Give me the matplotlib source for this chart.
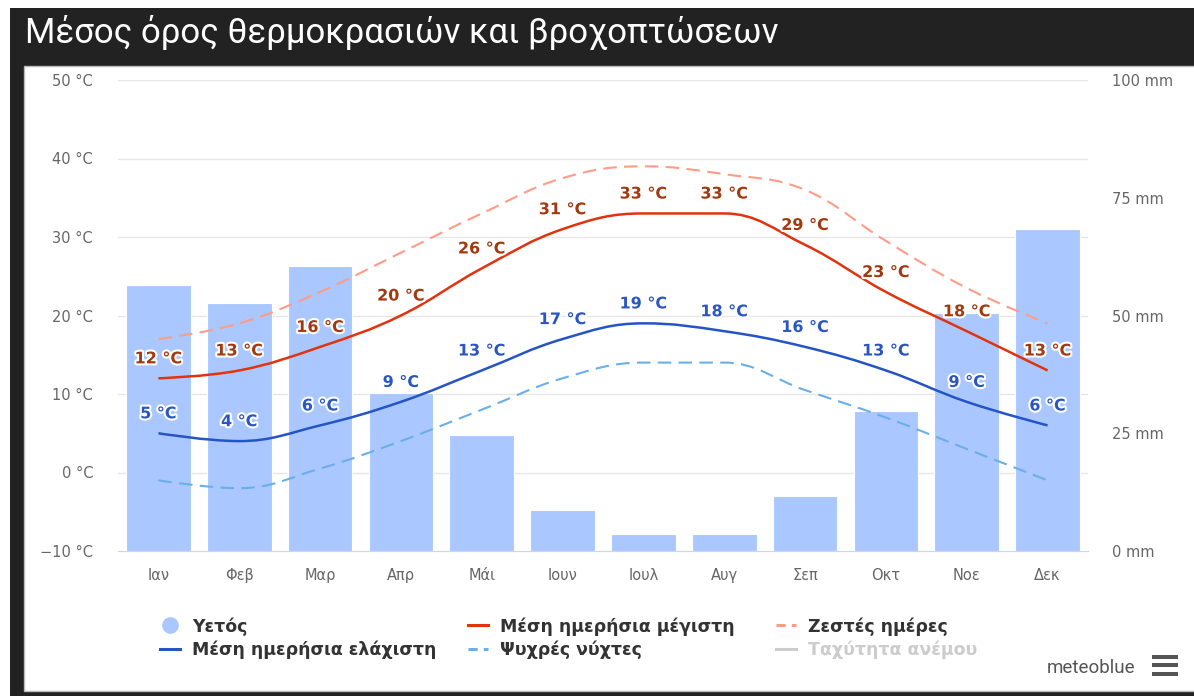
import matplotlib
matplotlib.use("Agg")
import matplotlib.pyplot as plt
import matplotlib.patheffects as pe
from matplotlib.path import Path
from matplotlib.patches import PathPatch, Rectangle
from matplotlib.lines import Line2D
from matplotlib.transforms import blended_transform_factory

# data
months = ['Ιαν', 'Φεβ', 'Μαρ', 'Απρ', 'Μάι', 'Ιουν', 'Ιουλ', 'Αυγ', 'Σεπ', 'Οκτ', 'Νοε', 'Δεκ']
rain_mm = [56.5, 52.7, 60.5, 33.5, 24.6, 8.7, 3.6, 3.6, 11.7, 29.7, 50.5, 68.4]
t_max = [12, 13, 16, 20, 26, 31, 33, 33, 29, 23, 18, 13]
t_min = [5, 4, 6, 9, 13, 17, 19, 18, 16, 13, 9, 6]
hot_days = [17, 19, 23, 28, 33, 37.5, 39, 38, 36, 29.5, 23.5, 19]
cold_nights = [-1, -2, 0.5, 4, 8, 12, 14, 14, 10.5, 7, 3, -1]

temp_ticks = [-10, 0, 10, 20, 30, 40, 50]
rain_ticks = [0, 25, 50, 75, 100]

W, H = 1194, 696
fig = plt.figure(figsize=(W / 100, H / 100), dpi=100)
fig.patch.set_facecolor('white')

# dark frame + title bar, white panel
fig.add_artist(Rectangle((10 / W, 0), 1, 1 - 8 / H, transform=fig.transFigure,
                         facecolor='#222222', edgecolor='none', zorder=-3))
fig.add_artist(Rectangle((24 / W, 5 / H), 1, 1 - 66 / H - 5 / H, transform=fig.transFigure,
                         facecolor='white', edgecolor='#bbbbbb', lw=1, zorder=-2))
fig.text(25 / W, 1 - 33 / H, 'Μέσος όρος θερμοκρασιών και βροχοπτώσεων',
         color='white', fontsize=25, family='Roboto', va='center', ha='left')

ax = fig.add_axes([118 / W, 1 - 551 / H, 970 / W, 471 / H])
rain = ax.twinx()
ax.set_zorder(rain.get_zorder() + 1)
ax.patch.set_visible(False)

x = list(range(len(months)))

# grid behind the bars, placed in temperature units
gt = blended_transform_factory(rain.transAxes, ax.transData)
for t in temp_ticks[1:]:
    rain.plot([0, 1], [t, t], transform=gt, color='#e6e6e6', lw=1, zorder=0)

rain.bar(x, rain_mm, width=0.8, color='#aac8ff', edgecolor='white', lw=0.8, zorder=1)
rain.set_ylim(0, 100)
rain.set_yticks(rain_ticks)
rain.set_yticklabels([f'{v} mm' for v in rain_ticks])


def spline_path(xs, ys, smoothing=1.5):
    verts = [(xs[0], ys[0])]
    codes = [Path.MOVETO]
    n = len(xs)
    prev_right = (xs[0], ys[0])
    for i in range(1, n):
        px, py = xs[i], ys[i]
        lx, ly = xs[i - 1], ys[i - 1]
        if i < n - 1:
            nx, ny = xs[i + 1], ys[i + 1]
            d = smoothing + 1
            lcx = (smoothing * px + lx) / d
            lcy = (smoothing * py + ly) / d
            rcx = (smoothing * px + nx) / d
            rcy = (smoothing * py + ny) / d
            corr = (rcy - lcy) * (rcx - px) / (rcx - lcx) + py - rcy
            lcy += corr
            rcy += corr
            if lcy > ly and lcy > py:
                lcy = max(ly, py)
                rcy = 2 * py - lcy
            elif lcy < ly and lcy < py:
                lcy = min(ly, py)
                rcy = 2 * py - lcy
            if rcy > ny and rcy > py:
                rcy = max(ny, py)
                lcy = 2 * py - rcy
            elif rcy < ny and rcy < py:
                rcy = min(ny, py)
                lcy = 2 * py - rcy
        else:
            lcx, lcy = px, py
            rcx, rcy = px, py
        verts += [prev_right, (lcx, lcy), (px, py)]
        codes += [Path.CURVE4] * 3
        prev_right = (rcx, rcy)
    return Path(verts, codes)


c_max, c_min = '#e2330e', '#2554c7'
c_hot, c_cold = '#ff9b86', '#6aaeea'
dash = (0, (6.5, 3.5))

series = [
    (hot_days, c_hot, dash, 1.5),
    (cold_nights, c_cold, dash, 1.5),
    (t_max, c_max, '-', 1.8),
    (t_min, c_min, '-', 1.8),
]
for vals, col, ls, lw in series:
    ax.add_patch(PathPatch(spline_path(x, vals), fill=False, edgecolor=col,
                           lw=lw, linestyle=ls, zorder=3, capstyle='butt'))

halo = [pe.withStroke(linewidth=3, foreground='white')]
for vals, col in [(t_max, '#a3380e'), (t_min, '#2a55c4')]:
    for xi, v in zip(x, vals):
        ax.annotate(f'{v} °C', (xi, v), xytext=(0, 14), textcoords='offset points',
                    ha='center', va='center', fontsize=11.5, fontweight='bold',
                    color=col, path_effects=halo, zorder=5)

ax.set_xlim(-0.5, len(months) - 0.5)
ax.set_ylim(-10, 50)
ax.set_yticks(temp_ticks)
ax.set_yticklabels([f'{t} °C'.replace('-', '\u2212') for t in temp_ticks])
ax.set_xticks(x)
ax.set_xticklabels(months)

for a in (ax, rain):
    for s in a.spines.values():
        s.set_visible(False)
    a.tick_params(length=0, colors='#666666', labelsize=10.5)
ax.spines['bottom'].set_visible(True)
ax.spines['bottom'].set_color('#ccd6eb')
ax.tick_params(axis='y', pad=18)
ax.tick_params(axis='x', pad=12)
rain.tick_params(axis='y', pad=17)

# legend, three columns placed like the original
handles = [
    Line2D([], [], ls='none', marker='o', ms=11, color='#aac8ff'),
    Line2D([], [], color=c_min, lw=2.2),
    Line2D([], [], color=c_max, lw=2.2),
    Line2D([], [], color=c_cold, lw=2.2, ls=(0, (3, 2))),
    Line2D([], [], color=c_hot, lw=2.2, ls=(0, (3, 2))),
    Line2D([], [], color='#cccccc', lw=2.2),
]
labels = ['Υετός', 'Μέση ημερήσια ελάχιστη', 'Μέση ημερήσια μέγιστη',
          'Ψυχρές νύχτες', 'Ζεστές ημέρες', 'Ταχύτητα ανέμου']
col_x = [160, 468, 776]
for c in range(3):
    leg = fig.legend(handles[2 * c:2 * c + 2], labels[2 * c:2 * c + 2],
                     loc='upper left', bbox_to_anchor=(col_x[c] / W, 1 - 617 / H),
                     frameon=False, borderpad=0, borderaxespad=0,
                     prop={'family': 'DejaVu Sans', 'weight': 'bold', 'size': 12.5},
                     handlelength=1.15, handletextpad=0.7, labelspacing=0.3)
    for txt in leg.get_texts():
        txt.set_color('#333333')
    if c == 2:
        leg.get_texts()[-1].set_color('#cccccc')

fig.text(1135 / W, 1 - 668 / H, 'meteoblue', color='#555555', fontsize=13.5,
         family='Roboto', ha='right', va='center')
for yy in (657, 665, 674):
    fig.add_artist(Rectangle((1152 / W, 1 - (yy + 1.5) / H), 26 / W, 3.5 / H,
                             transform=fig.transFigure, facecolor='#555555',
                             edgecolor='none'))

fig.savefig('out.png', dpi=100)
